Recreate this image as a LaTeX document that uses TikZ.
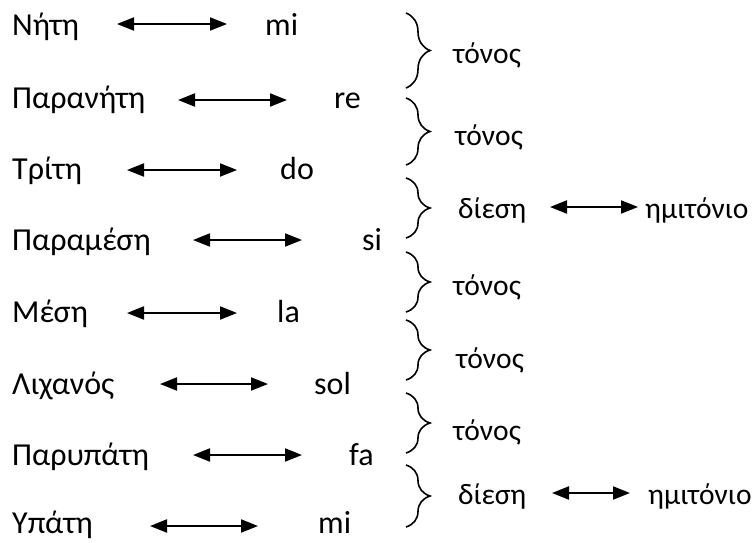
\documentclass[tikz,border=0pt]{standalone}
\usepackage{fontspec}
\setmainfont{Carlito}
\usetikzlibrary{arrows.meta,decorations.pathreplacing}
\begin{document}
\begin{tikzpicture}[x=1pt,y=-1pt,
  lbl/.style={inner sep=0pt, anchor=base west, font=\fontsize{32}{36}\selectfont},
  sm/.style={inner sep=0pt, anchor=base west, font=\fontsize{29.5}{34}\selectfont},
  dbl/.style={{Triangle[length=17pt,width=13pt]}-{Triangle[length=17pt,width=13pt]}, line width=2pt},
  br/.style={decorate, decoration={brace, amplitude=24pt}, line width=1.6pt}]
\useasboundingbox (0,0) rectangle (755,542);
% left names
\node[lbl] (n1) at (12,35) {Νήτη};
\node[lbl] (n2) at (12,108) {Παρανήτη};
\node[lbl] (n3) at (12,179) {Τρίτη};
\node[lbl] (n4) at (12,250) {Παραμέση};
\node[lbl] (n5) at (12,322) {Μέση};
\node[lbl] (n6) at (12,394) {Λιχανός};
\node[lbl] (n7) at (12,465) {Παρυπάτη};
\node[lbl] (n8) at (12,533) {Υπάτη};
% notes
\node[lbl] (m1) at (265,35) {mi};
\node[lbl] (m2) at (334,108) {re};
\node[lbl] (m3) at (280,179) {do};
\node[lbl] (m4) at (362,250) {si};
\node[lbl] (m5) at (277,322) {la};
\node[lbl] (m6) at (314,394) {sol};
\node[lbl] (m7) at (349,465) {fa};
\node[lbl] (m8) at (318,533) {mi};
% arrow ends
\coordinate (a1s) at (117,24);  \coordinate (a1e) at (227,24);
\coordinate (a2s) at (178,100); \coordinate (a2e) at (287,100);
\coordinate (a3s) at (127,170); \coordinate (a3e) at (237,170);
\coordinate (a4s) at (193,240); \coordinate (a4e) at (302,240);
\coordinate (a5s) at (127,313); \coordinate (a5e) at (237,313);
\coordinate (a6s) at (160,384); \coordinate (a6e) at (268,384);
\coordinate (a7s) at (193,455); \coordinate (a7e) at (302,455);
\coordinate (a8s) at (150,526); \coordinate (a8e) at (258,526);
\foreach \i in {1,...,8} {\draw[dbl] (a\i s) -- (a\i e);}
% braces
\coordinate (b1t) at (406,13);  \coordinate (b1b) at (406,88);
\coordinate (b2t) at (406,98);  \coordinate (b2b) at (406,165);
\coordinate (b3t) at (406,178); \coordinate (b3b) at (406,238);
\coordinate (b4t) at (406,252); \coordinate (b4b) at (406,312);
\coordinate (b5t) at (406,320); \coordinate (b5b) at (406,380);
\coordinate (b6t) at (406,393); \coordinate (b6b) at (406,453);
\coordinate (b7t) at (406,465); \coordinate (b7b) at (406,527);
\foreach \i in {1,...,7} {\draw[br] (b\i t) -- (b\i b);}
% interval labels
\node[sm] (t1) at (453,63) {τόνος};
\node[sm] (t2) at (455,145) {τόνος};
\node[sm] (t3) at (458,218) {δίεση};
\node[sm] (t4) at (453,295) {τόνος};
\node[sm] (t5) at (456,368) {τόνος};
\node[sm] (t6) at (453,440) {τόνος};
\node[sm] (t7) at (458,504) {δίεση};
\node[sm] (h3) at (645,218) {ημιτόνιο};
\node[sm] (h7) at (648,504) {ημιτόνιο};
\coordinate (c3s) at (550,207); \coordinate (c3e) at (638,207);
\coordinate (c7s) at (552,493); \coordinate (c7e) at (630,493);
\draw[dbl] (c3s) -- (c3e);
\draw[dbl] (c7s) -- (c7e);
\end{tikzpicture}
\end{document}
